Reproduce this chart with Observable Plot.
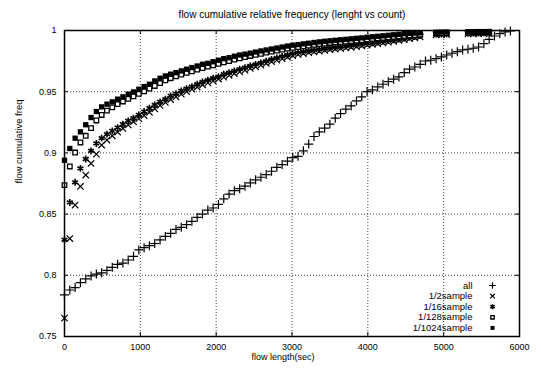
<!DOCTYPE html>
<html><head><meta charset="utf-8">
<script src="https://cdn.jsdelivr.net/npm/d3@7"></script>
<script src="https://cdn.jsdelivr.net/npm/@observablehq/plot@0.6"></script>
<style>
body{margin:0;background:#fff}
#chart svg{font-family:"Liberation Sans",Arial,Helvetica,sans-serif;color:#000;background:#fff}
</style>
</head><body><div id="chart"></div>
<script>
const titleText = "flow cumulative relative frequency (lenght vs count)";
const xLabel = "flow length(sec)";
const yLabel = "flow cumulative freq";
const xTicks = [0, 1000, 2000, 3000, 4000, 5000, 6000];
const xTickLabels = ["0", "1000", "2000", "3000", "4000", "5000", "6000"];
const yTicks = [0.75, 0.8, 0.85, 0.9, 0.95, 1];
const yTickLabels = ["0.75", "0.8", "0.85", "0.9", "0.95", "1"];
const seriesNames = ["all", "1/2sample", "1/16sample", "1/128sample", "1/1024sample"];

const flowLength = [0,70,140,210,280,350,420,490,560,630,700,770,840,910,980,1050,1120,1190,1260,1330,1400,1470,1540,1610,1680,1750,1820,1890,1960,2030,2100,2170,2240,2310,2380,2450,2520,2590,2660,2730,2800,2870,2940,3010,3080,3150,3220,3290,3360,3430,3500,3570,3640,3710,3780,3850,3920,3990,4060,4130,4200,4270,4340,4410,4480,4550,4620,4690,4760,4830,4900,4970,5040,5110,5180,5250,5320,5390,5460,5530,5600,5670,5740,5810,5880];

const freqAll = [
0.784,0.788,0.790,0.794,0.797,0.7995,0.801,0.802,0.804,0.8065,
0.809,0.810,0.8125,0.8155,0.8207,0.8226,0.8242,0.826,0.8289,0.8318,
0.8343,0.8375,0.8392,0.8414,0.8441,0.8473,0.850,0.8533,0.855,0.8579,
0.8625,0.8664,0.8691,0.8708,0.8728,0.8755,0.878,0.8801,0.8823,0.885,
0.8882,0.8905,0.8932,0.8962,0.8972,0.9017,0.9072,0.9134,0.9172,0.9202,
0.9235,0.9284,0.9321,0.9357,0.9384,0.9425,0.9458,0.9501,0.9515,0.9539,
0.9561,0.9582,0.9602,0.9621,0.9656,0.9684,0.9702,0.9724,0.9751,0.9757,
0.977,0.9784,0.980,0.9814,0.9827,0.9841,0.9847,0.9855,0.9865,0.9892,
0.9928,0.9955,0.9974,0.9988,0.9996];

const freq2 = [
0.765,0.830,0.8574,0.8726,0.8819,0.8914,0.899,0.9064,0.9105,0.914,
0.917,0.92,0.9228,0.9255,0.928,0.9305,0.9332,0.936,0.9388,0.9412,
0.9436,0.9458,0.948,0.95,0.952,0.9538,0.9556,0.9572,0.9588,0.9603,
0.9618,0.9634,0.9648,0.9662,0.9676,0.969,0.9703,0.9717,0.9731,0.9745,
0.9758,0.977,0.9782,0.9794,0.9804,0.9812,0.9819,0.9825,0.9831,0.9837,
0.9843,0.9848,0.9853,0.9858,0.9863,0.9869,0.9875,0.9881,0.9887,0.9893,
0.9899,0.9905,0.9912,0.9919,0.9926,0.9933,0.994,0.9947,null,null,
0.9965,0.9966,0.9967,null,null,null,0.9972,0.9973,0.9974,0.9975,
0.9976,null,null,null,null];

const freq16 = [
0.829,0.8595,0.876,0.8873,0.895,0.9017,0.9077,0.912,0.9153,0.918,
0.9207,0.9235,0.9262,0.9284,0.9311,0.9338,0.9365,0.9392,0.9417,0.9439,
0.9466,0.9485,0.9507,0.9525,0.9542,0.9561,0.958,0.9594,0.961,0.9623,
0.9643,0.9656,0.967,0.9684,0.9697,0.971,0.9723,0.9736,0.975,0.9764,
0.9776,0.9788,0.98,0.9811,0.982,0.9827,0.9833,0.9839,0.9845,0.9851,
0.9857,0.9862,0.9867,0.9872,0.9877,0.9883,0.9889,0.9895,0.99,0.9906,
0.9912,0.9918,0.9924,0.993,0.9937,0.9944,0.9951,0.9958,null,null,
0.997,0.9971,0.9972,null,null,null,0.9977,0.9978,0.9979,0.998,
0.9981,null,null,null,null];

const freq128 = [
0.8737,0.8889,0.9003,0.9085,0.914,0.9202,0.9265,0.931,0.9345,0.9372,
0.9398,0.942,0.9442,0.9462,0.9482,0.9503,0.9525,0.9547,0.957,0.9592,
0.961,0.9626,0.964,0.9654,0.9667,0.968,0.9693,0.9705,0.9716,0.9728,
0.974,0.975,0.9762,0.9772,0.9782,0.9792,0.9801,0.981,0.9819,0.9828,
0.9836,0.9844,0.9852,0.9859,0.9865,0.9871,0.9877,0.9883,0.9888,0.9893,
0.9898,0.9902,0.9906,0.991,0.9914,0.9918,0.9922,0.9927,0.9931,0.9935,
0.994,0.9944,0.9948,0.9952,0.9956,0.996,0.9963,0.9966,null,null,
0.9978,0.9979,0.998,null,null,null,0.9983,0.9984,0.9985,0.9986,
0.9988,null,null,null,null];

const freq1024 = [
0.894,0.9036,0.912,0.9172,0.923,0.9289,0.9338,0.9376,0.9398,0.9417,
0.9439,0.9458,0.948,0.9498,0.952,0.9542,0.9561,0.9588,0.961,0.9629,
0.9643,0.9656,0.967,0.9684,0.9697,0.971,0.9724,0.9732,0.9745,0.9757,
0.977,0.9778,0.979,0.980,0.9807,0.9815,0.9824,0.9833,0.9841,0.9849,
0.9857,0.9865,0.9873,0.988,0.9885,0.9891,0.9896,0.9902,0.9907,0.9912,
0.9916,0.992,0.9924,0.9928,0.9932,0.9936,0.994,0.9945,0.9949,0.9953,
0.9957,0.9961,0.9965,0.9969,0.9974,0.9977,0.9979,0.9981,null,null,
0.9986,0.9987,0.9988,null,null,null,0.999,0.999,0.9991,0.9991,
0.9992,null,null,null,null];

const seriesValues = [freqAll, freq2, freq16, freq128, freq1024];
const seriesStyle = [
  {symbol: "plus", r: 3.0, fill: "none", stroke: "black", strokeWidth: 1.2},
  {symbol: "times", r: 3.0, fill: "none", stroke: "black", strokeWidth: 1.2},
  {symbol: "asterisk", r: 3.2, fill: "none", stroke: "black", strokeWidth: 1.6},
  {symbol: "square2", r: 2.9, fill: "white", stroke: "black", strokeWidth: 1.3},
  {symbol: "square", r: 3.0, fill: "black", stroke: "none", strokeWidth: 1}
];

const rows = [];
seriesValues.forEach((vals, s) => vals.forEach((v, i) => {
  if (v != null) rows.push({series: seriesNames[s], length: flowLength[i], freq: v});
}));

const W = 541, H = 370, mL = 64, mR = 22, mT = 30, mB = 34;
const fw = W - mL - mR, fh = H - mT - mB;

const marks = [
  Plot.gridX(xTicks, {stroke: "black", strokeOpacity: 0.75, strokeDasharray: "1,2"}),
  Plot.gridY(yTicks, {stroke: "black", strokeOpacity: 0.75, strokeDasharray: "1,2"}),
  Plot.tickX(xTicks, {x: d => d, insetTop: fh - 4, stroke: "black"}),
  Plot.tickX(xTicks, {x: d => d, insetBottom: fh - 4, stroke: "black"}),
  Plot.tickY(yTicks, {y: d => d, insetRight: fw - 4, stroke: "black"}),
  Plot.tickY(yTicks, {y: d => d, insetLeft: fw - 4, stroke: "black"}),
  Plot.axisX(xTicks, {tickSize: 0, tickPadding: 7, fontSize: 9, label: null,
    tickFormat: d => xTickLabels[xTicks.indexOf(d)]}),
  Plot.axisY(yTicks, {tickSize: 0, tickPadding: 8, fontSize: 9, label: null,
    tickFormat: d => yTickLabels[yTicks.indexOf(d)]})
];
seriesNames.forEach((name, s) => {
  marks.push(Plot.dot(rows.filter(r => r.series === name), {x: "length", y: "freq", ...seriesStyle[s]}));
});
marks.push(Plot.frame({stroke: "black", strokeWidth: 1.5}));
seriesNames.forEach((name, s) => {
  const dy = -51 + 10.6 * s;
  marks.push(Plot.text([name], {frameAnchor: "bottom-right", dx: -47, dy, textAnchor: "end", lineAnchor: "middle", fontSize: 9.5, fill: "black"}));
  marks.push(Plot.dot([name], {frameAnchor: "bottom-right", dx: -27, dy, ...seriesStyle[s], r: seriesStyle[s].r * 0.75}));
});
marks.push(Plot.text([titleText], {frameAnchor: "top", dy: -16, fontSize: 10, lineAnchor: "middle", fill: "black"}));
marks.push(Plot.text([xLabel], {frameAnchor: "bottom", dx: -9, dy: 21, fontSize: 9, lineAnchor: "middle", fill: "black"}));
marks.push(Plot.text([yLabel], {frameAnchor: "left", dx: -46, rotate: -90, fontSize: 9.5, lineAnchor: "middle", fill: "black"}));

const chart = Plot.plot({
  width: W, height: H,
  marginLeft: mL, marginRight: mR, marginTop: mT, marginBottom: mB,
  style: {background: "white", color: "black"},
  x: {domain: [0, 6000], nice: false},
  y: {domain: [0.75, 1], nice: false},
  marks
});
document.getElementById("chart").appendChild(chart);
</script>
</body></html>
